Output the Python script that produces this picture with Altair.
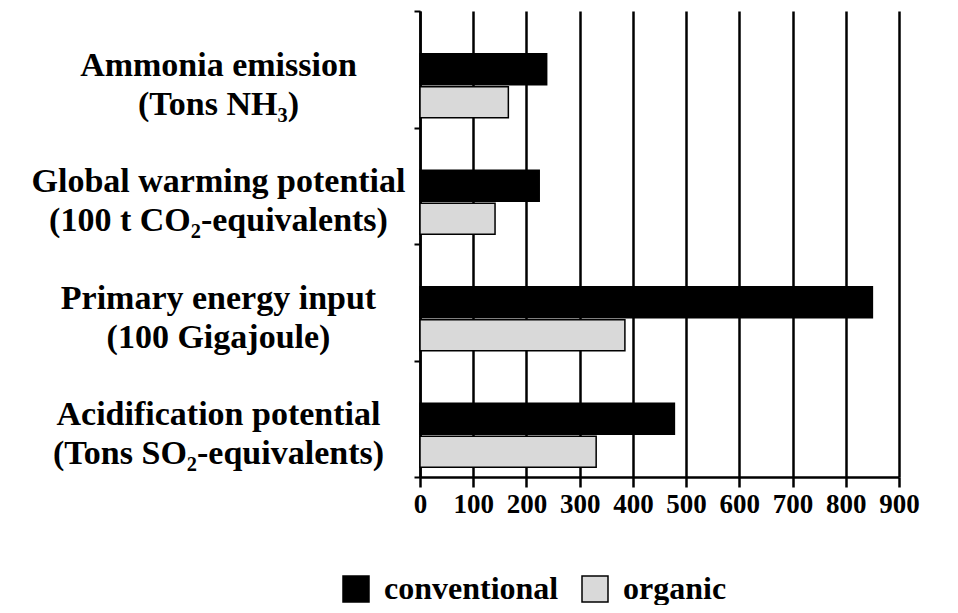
import altair as alt
import pandas as pd

categories = [
    "Ammonia emission|(Tons NH₃)",
    "Global warming potential|(100 t CO₂-equivalents)",
    "Primary energy input|(100 Gigajoule)",
    "Acidification potential|(Tons SO₂-equivalents)",
]
series = ["conventional", "organic"]
conventional = [238, 224, 850, 478]
organic = [166, 141, 385, 331]
x_ticks = [0, 100, 200, 300, 400, 500, 600, 700, 800, 900]

rows = []
for c, a, b in zip(categories, conventional, organic):
    rows.append({"category": c, "system": "conventional", "value": a})
    rows.append({"category": c, "system": "organic", "value": b})
df = pd.DataFrame(rows)

FONT = "Liberation Serif"

bars = alt.Chart(df).mark_bar(stroke="black", strokeWidth=1.5).encode(
    x=alt.X(
        "value:Q",
        scale=alt.Scale(domain=[0, 900], nice=False),
        axis=alt.Axis(
            values=x_ticks,
            title=None,
            grid=True,
            gridColor="black",
            gridWidth=2.5,
            gridOpacity=1,
            domainColor="black",
            domainWidth=2.5,
            tickColor="black",
            tickWidth=2.5,
            tickSize=10,
            labelFont=FONT,
            labelFontSize=27,
            labelFontWeight="bold",
            labelColor="black",
            labelPadding=4,
            labelOverlap=False,
            labelFlush=False,
        ),
    ),
    y=alt.Y(
        "category:N",
        sort=categories,
        scale=alt.Scale(paddingInner=0, paddingOuter=0),
        axis=alt.Axis(
            title=None,
            grid=False,
            domainColor="black",
            domainWidth=2.5,
            tickColor="black",
            tickWidth=2,
            tickSize=6,
            tickBand="extent",
            labelExpr="split(datum.label, '|')",
            labelFont=FONT,
            labelFontSize=34,
            labelFontWeight="bold",
            labelColor="black",
            labelLineHeight=39,
            labelAlign="center",
            labelBaseline="middle",
            labelPadding=196,
            labelOffset=-4,
            labelLimit=600,
        ),
    ),
    yOffset=alt.YOffset(
        "system:N",
        scale=alt.Scale(domain=["gap"] + series, paddingInner=0.06, paddingOuter=0.295),
    ),
    color=alt.Color(
        "system:N",
        scale=alt.Scale(domain=series, range=["#000000", "#d9d9d9"]),
        legend=alt.Legend(
            title=None,
            orient="none",
            legendX=-80,
            legendY=562,
            direction="horizontal",
            symbolType="square",
            symbolSize=676,
            symbolStrokeColor="black",
            symbolStrokeWidth=1.5,
            labelFont=FONT,
            labelFontSize=32,
            labelFontWeight="bold",
            labelColor="black",
            labelOffset=12,
            labelLimit=400,
            columnPadding=20,
        ),
    ),
)

chart = bars.properties(
    width=479,
    height=466,
    autosize=alt.AutoSizeParams(type="none"),
    padding={"left": 412, "top": 3, "right": 45, "bottom": 128},
    background="white",
).configure_view(stroke=None)

chart.save("out.html", embed_options={"renderer": "svg", "actions": False})
